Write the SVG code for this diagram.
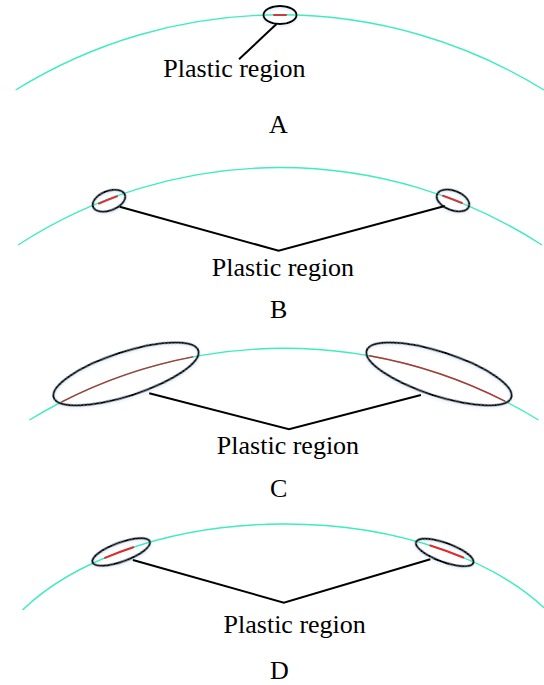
<svg xmlns="http://www.w3.org/2000/svg" width="544" height="685" viewBox="0 0 544 685">
  <style>
    .arc { fill: none; stroke: #3eecbe; stroke-width: 1.4; }
    .plastic { fill: none; stroke: #cc3b3b; stroke-width: 2; stroke-linecap: round; }
    .plastic.thin { stroke: #c03030; stroke-width: 1.4; }
    .plastic.bright { stroke: #e62828; }
    .zone { fill: none; stroke: #000; stroke-width: 2; }
    .leader { fill: none; stroke: #000; stroke-width: 2; stroke-linejoin: miter; }
    .lbl { font-family: "Liberation Serif", "Times New Roman", serif; font-size: 26px; fill: #000; text-anchor: middle; }
  </style>
  <defs>
    <filter id="halo" x="-30%" y="-50%" width="160%" height="200%">
      <feDropShadow dx="0" dy="1.2" stdDeviation="1.4" flood-color="#a8c6e4" flood-opacity="0.45"/>
    </filter>
  </defs>
  <rect width="544" height="685" fill="#fff"/>

  <!-- Case A: single plastic zone at the crown -->
  <g id="caseA">
    <path class="arc" d="M15.6,90 A501.8,501.8 0 0 1 544,90"/>
    <path class="plastic" d="M274,15 L286,15"/>
    <ellipse class="zone" filter="url(#halo)" cx="280" cy="15" rx="16.5" ry="9"/>
    <text class="lbl" x="234.5" y="77">Plastic region</text>
    <text class="lbl" x="278.5" y="132.7">A</text>
  </g>

  <!-- Case B: two small zones on the shoulders -->
  <g id="caseB">
    <path class="arc" d="M18,245 A481.6,481.6 0 0 1 542,245"/>
    <path class="plastic" d="M99,203.5 A481.6,481.6 0 0 1 117,196.3"/>
    <path class="plastic" d="M443,195.8 A481.6,481.6 0 0 1 462,203"/>
    <ellipse class="zone" filter="url(#halo)" cx="109" cy="200.8" rx="17" ry="9.8" transform="rotate(-21 109 200.8)"/>
    <ellipse class="zone" filter="url(#halo)" cx="453" cy="200.5" rx="17" ry="9.8" transform="rotate(21 453 200.5)"/>
    <text class="lbl" x="283" y="276">Plastic region</text>
    <text class="lbl" x="278.7" y="318">B</text>
  </g>

  <!-- Case C: two large zones -->
  <g id="caseC">
    <path class="arc" d="M29.5,420 A487.5,487.5 0 0 1 538.5,420"/>
    <path class="plastic thin" d="M61.8,401.9 A487.5,487.5 0 0 1 192.6,356.9"/>
    <path class="plastic thin" d="M369.5,355.8 A487.5,487.5 0 0 1 504.9,401.2"/>
    <ellipse class="zone" filter="url(#halo)" cx="126" cy="374" rx="76" ry="22" transform="rotate(-18 126 374)"/>
    <ellipse class="zone" filter="url(#halo)" cx="439" cy="374" rx="76" ry="22" transform="rotate(18 439 374)"/>
    <text class="lbl" x="288" y="454">Plastic region</text>
    <text class="lbl" x="278.7" y="496.7">C</text>
  </g>

  <!-- Case D: two small zones, steeper profile -->
  <g id="caseD">
    <path class="arc" d="M22.6,609.9 A306,178 0 0 1 544,607.7"/>
    <path class="plastic bright" d="M105,557.8 A306,178 0 0 1 133.3,547.2"/>
    <path class="plastic bright" d="M430.3,545.5 A306,178 0 0 1 463.2,557.5"/>
    <ellipse class="zone" filter="url(#halo)" cx="121.2" cy="552" rx="30.5" ry="9.5" transform="rotate(-20 121.2 552)"/>
    <ellipse class="zone" filter="url(#halo)" cx="444.7" cy="552.5" rx="30.5" ry="9.5" transform="rotate(20 444.7 552.5)"/>
    <text class="lbl" x="294.7" y="632.7">Plastic region</text>
    <text class="lbl" x="279.5" y="678.5">D</text>
  </g>

  <!-- leader lines from the zones to their labels -->
  <g id="connectors">
    <path class="leader" d="M276.5,24 L239,59.3"/>
    <path class="leader" d="M119.7,206.7 L278.6,250.7 L444.8,206"/>
    <path class="leader" d="M149.2,393.3 L289,429.3 L420.9,395"/>
    <path class="leader" d="M132.9,560 L283.8,602.7 L430.3,559.3"/>
  </g>
</svg>
